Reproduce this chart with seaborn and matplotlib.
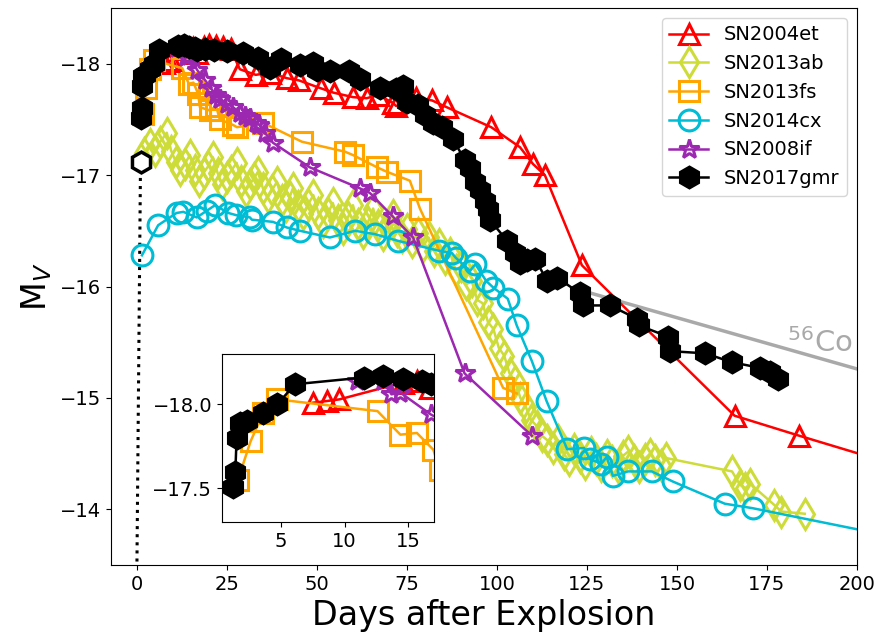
import matplotlib
matplotlib.use("Agg")
import matplotlib.pyplot as plt
import seaborn as sns

# ---------------- data (days after explosion, absolute V magnitude) ----------------
sn04et_day = [7.5, 8.6, 9.6, 14.6, 15.7, 16.7, 18.5, 20, 22, 24, 26, 28.6, 33, 37, 41.6, 45,
              51, 54.6, 60, 63.8, 67, 71, 72, 77.6, 82, 86, 98.4, 106.4, 110, 113.3, 123.6,
              166, 184, 220]
sn04et_mag = [-18.01, -18.02, -18.03, -18.13, -18.14, -18.10, -18.15, -18.17, -18.16, -18.15,
              -18.13, -17.95, -17.90, -17.92, -17.87, -17.85, -17.78, -17.74, -17.70, -17.69,
              -17.72, -17.65, -17.62, -17.69, -17.67, -17.61, -17.43, -17.25, -17.10, -17.00,
              -16.19, -14.84, -14.66, -14.31]

sn13ab_day = [2.0, 3.5, 5.0, 6.5, 8.3, 9.5, 10.8, 12.0, 13.3, 14.7, 16.0, 17.2, 18.5, 19.8,
              21.1, 22.4, 23.6, 24.9, 26.2, 27.7, 29.0, 30.2, 31.4, 32.5, 33.6, 35.0, 36.3,
              37.6, 38.9, 40.2, 41.4, 42.4, 43.3, 44.8, 46.2, 47.6, 49.0, 50.4, 51.8, 53.1,
              54.4, 55.8, 57.2, 58.6, 60.0, 61.4, 62.8, 64.2, 65.6, 67.0, 68.3, 69.7, 71.0,
              72.3, 73.5, 75.0, 76.5, 78.0, 79.5, 81.0, 82.5, 84.0, 85.5, 87.0, 88.5, 90.0,
              91.5, 93.0, 94.5, 96.0, 97.5, 99.0, 100.5, 102.0, 103.5, 105.0, 106.5, 108.0,
              109.5, 111.0, 112.5, 114.0, 115.5, 117, 118.5, 120, 121.5, 123, 124.5, 126,
              127.5, 129, 130.5, 132, 133.5, 135, 136.5, 138, 139.5, 141, 142.5, 144, 145.5,
              147, 165.3, 167.5, 169, 170.3, 177, 179, 185.5]
sn13ab_mag = [-17.20, -17.28, -17.22, -17.30, -17.38, -17.22, -17.12, -17.05, -17.10, -17.18,
              -17.05, -16.95, -17.02, -17.08, -17.16, -17.02, -16.92, -16.98, -17.04, -17.11,
              -16.95, -16.86, -16.92, -16.97, -17.03, -16.88, -16.80, -16.87, -16.94, -16.78,
              -16.72, -16.80, -16.88, -16.72, -16.65, -16.74, -16.82, -16.66, -16.58, -16.66,
              -16.75, -16.60, -16.52, -16.62, -16.73, -16.56, -16.48, -16.58, -16.70, -16.55,
              -16.46, -16.55, -16.64, -16.50, -16.44, -16.52, -16.40, -16.48, -16.36, -16.44,
              -16.32, -16.38, -16.25, -16.30, -16.15, -16.18, -16.02, -16.05, -15.88, -15.85,
              -15.68, -15.62, -15.45, -15.38, -15.22, -15.15, -15.00, -14.92, -14.80, -14.75,
              -14.66, -14.62, -14.55, -14.62, -14.50, -14.44, -14.54, -14.47, -14.41, -14.51,
              -14.45, -14.39, -14.49, -14.43, -14.38, -14.48, -14.52, -14.44, -14.38, -14.45,
              -14.50, -14.44, -14.40, -14.46, -14.34, -14.22, -14.19, -14.23, -14.04, -13.98,
              -13.96]

sn13fs_day = [1.6, 2.6, 3.6, 4.7, 12.6, 14.4, 15.7, 17.0, 17.5, 20.3, 22, 23, 26.7, 27.8, 35,
              45.8, 57.8, 60, 66.7, 69.4, 75.8, 78.6, 101.7, 105.5]
sn13fs_mag = [-17.55, -17.78, -17.95, -18.03, -17.96, -17.82, -17.83, -17.73, -17.61, -17.58,
              -17.62, -17.50, -17.45, -17.43, -17.47, -17.30, -17.21, -17.18, -17.07, -17.03,
              -16.95, -16.70, -15.09, -15.04]

sn14cx_day = [1.4, 5.9, 11, 12.9, 16.6, 19.4, 21.7, 25.4, 27.6, 31.4, 31.9, 37.8, 41.6, 45.3,
              53.6, 60.6, 66.1, 72.5, 84, 87.5, 88.5, 92.5, 94, 97, 99, 103, 105.5, 109.7,
              113.8, 119.5, 124.2, 125.8, 129, 130.5, 132.2, 136.4, 143, 148.8, 163.3, 171,
              220]
sn14cx_mag = [-16.28, -16.55, -16.66, -16.67, -16.62, -16.68, -16.73, -16.66, -16.64, -16.62,
              -16.60, -16.58, -16.53, -16.50, -16.44, -16.50, -16.47, -16.41, -16.32, -16.30,
              -16.26, -16.14, -16.20, -16.05, -15.99, -15.89, -15.65, -15.33, -14.97, -14.54,
              -14.55, -14.45, -14.41, -14.47, -14.30, -14.34, -14.34, -14.25, -14.05, -14.01,
              -13.69]

sn08if_day = [11, 13, 13.7, 14.4, 16.8, 19, 20.5, 22, 23, 25, 26.7, 28.5, 30, 31.4, 33, 34,
              35.5, 37.8, 48, 62, 64.7, 71, 76.7, 91, 109.7]
sn08if_mag = [-18.14, -18.14, -18.06, -18.07, -17.94, -17.85, -17.78, -17.72, -17.68, -17.64,
              -17.61, -17.56, -17.53, -17.51, -17.47, -17.45, -17.38, -17.29, -17.07, -16.88,
              -16.84, -16.63, -16.44, -15.22, -14.66]

sn17gmr_day = [1.2, 1.4, 1.5, 1.8, 2.3, 3.6, 4.7, 6.1, 11.5, 13, 14.6, 16.1, 16.8, 19, 21.5, 25,
               29.4, 33.6, 37, 40, 45.3, 49, 50, 53.6, 59, 62, 67.5, 72, 74, 75, 78, 80, 82.3,
               84.7, 87.8, 91, 92.5, 94, 95.3, 96.7, 97.5, 98, 102.8, 105, 106.4, 108.3, 110.6,
               113.9, 116.7, 123, 124, 131.4, 138.9, 139.5, 147.5, 148, 157.8, 165.3, 173,
               175.8, 178]
sn17gmr_mag = [-17.51, -17.60, -17.80, -17.89, -17.90, -17.95, -18.00, -18.12, -18.16, -18.17,
               -18.15, -18.14, -18.12, -18.13, -18.12, -18.11, -18.10, -18.05, -17.96, -18.04,
               -17.99, -18.01, -17.94, -17.93, -17.93, -17.86, -17.78, -17.77, -17.80, -17.66,
               -17.63, -17.54, -17.47, -17.43, -17.32, -17.14, -17.06, -16.94, -16.87, -16.77,
               -16.70, -16.60, -16.41, -16.30, -16.21, -16.24, -16.25, -16.05, -16.08, -15.94,
               -15.83, -15.83, -15.71, -15.65, -15.55, -15.42, -15.40, -15.32, -15.27, -15.23,
               -15.17]

co56_day = [125, 200]
co56_mag = [-15.95, -15.26]

expl_day = [1.0]
expl_mag = [-17.12]
expl_line_day = [1.0, 0.0]
expl_line_mag = [-17.12, -13.5]

series = [
    ("SN2004et", sn04et_day, sn04et_mag, "red", "^", "none"),
    ("SN2013ab", sn13ab_day, sn13ab_mag, "#cddc39", "d", "none"),
    ("SN2013fs", sn13fs_day, sn13fs_mag, "orange", "s", "none"),
    ("SN2014cx", sn14cx_day, sn14cx_mag, "#00bcd4", "o", "none"),
    ("SN2008if", sn08if_day, sn08if_mag, "#9c27b0", "*", "none"),
    ("SN2017gmr", sn17gmr_day, sn17gmr_mag, "black", "h", "black"),
]
inset_names = ["SN2004et", "SN2013fs", "SN2008if", "SN2017gmr"]

MS = 15
MEW = 2.2
LW = 1.8

fig = plt.figure(figsize=(8.81, 6.41), dpi=100)
ax = fig.add_axes([111 / 881, 1 - 565 / 641, 746 / 881, 557 / 641])

# explosion epoch marker and dotted line
sns.lineplot(x=expl_line_day, y=expl_line_mag, ax=ax, color="black", lw=2.2,
             linestyle=":", sort=False, estimator=None, legend=False, zorder=1)

sns.lineplot(x=co56_day, y=co56_mag, ax=ax, color="darkgray", lw=2.5,
             sort=False, estimator=None, legend=False, zorder=1)

for name, d, m, c, mk, fc in series:
    sns.lineplot(x=d, y=m, ax=ax, color=c, marker=mk, markersize=MS,
                 markeredgewidth=MEW, markeredgecolor=c, markerfacecolor=fc,
                 lw=LW, label=name, sort=False, estimator=None)

ax.plot(expl_day, expl_mag, marker="h", markersize=MS, markerfacecolor="white",
        markeredgecolor="black", markeredgewidth=2.5, linestyle="none", zorder=6)

ax.text(180.5, -15.41, r"$^{56}$Co", color="darkgray", fontsize=21,
        ha="left", va="baseline")

ax.set_xlim(-7.2, 200)
ax.set_ylim(-13.5, -18.5)
ax.set_xticks([0, 25, 50, 75, 100, 125, 150, 175, 200])
ax.set_yticks([-18, -17, -16, -15, -14])
ax.tick_params(labelsize=14)
ax.set_xlabel("Days after Explosion", fontsize=24)
ax.set_ylabel(r"M$_V$", fontsize=24)
ax.legend(loc="upper right", fontsize=14)

# inset
ins = fig.add_axes([222 / 881, 1 - 522 / 641, 212 / 881, 168 / 641])
for name, d, m, c, mk, fc in series:
    if name not in inset_names:
        continue
    sns.lineplot(x=d, y=m, ax=ins, color=c, marker=mk, markersize=MS,
                 markeredgewidth=MEW, markeredgecolor=c, markerfacecolor=fc,
                 lw=LW, sort=False, estimator=None, legend=False)
ins.set_xlim(0.35, 17.05)
ins.set_ylim(-17.3, -18.3)
ins.set_xticks([5, 10, 15])
ins.set_yticks([-18.0, -17.5])
ins.tick_params(labelsize=14)
ins.set_xlabel("")
ins.set_ylabel("")

fig.savefig("out.png", dpi=100)
